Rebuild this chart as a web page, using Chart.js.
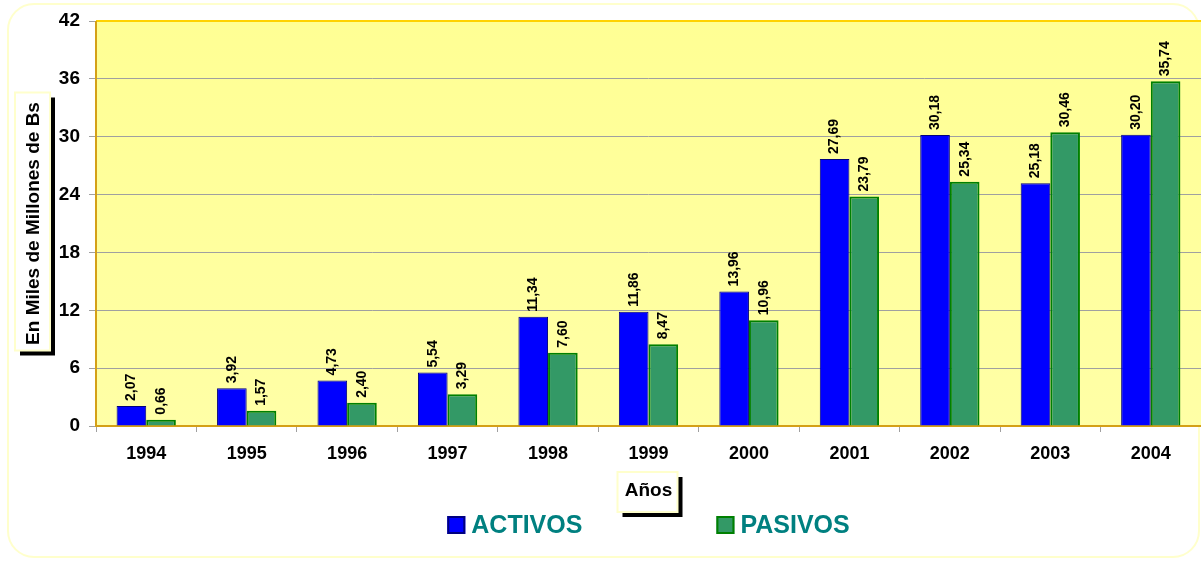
<!DOCTYPE html>
<html>
<head>
<meta charset="utf-8">
<script src="https://cdn.jsdelivr.net/npm/chart.js@4/dist/chart.umd.min.js"></script>
<style>
  body { margin: 0; background: #fff; }
  canvas { display: block; }
</style>
</head>
<body>
<canvas id="myChart" width="1201" height="561"></canvas>
<script>
const years = ['1994', '1995', '1996', '1997', '1998', '1999', '2000', '2001', '2002', '2003', '2004']
const activos = [2.07, 3.92, 4.73, 5.54, 11.34, 11.86, 13.96, 27.69, 30.18, 25.18, 30.20]
const pasivos = [0.66, 1.57, 2.40, 3.29, 7.60, 8.47, 10.96, 23.79, 25.34, 30.46, 35.74]
const yTicks = [0, 6, 12, 18, 24, 30, 36, 42]

const FONT = '"Liberation Sans", Arial, sans-serif'

function shadowBox(c, x, y, w, h) {
    c.fillStyle = '#000'
    c.fillRect(x + 5, y + 5, w, h)
    c.fillStyle = '#fff'
    c.fillRect(x, y, w, h)
    c.strokeStyle = '#ffffcc'
    c.lineWidth = 2
    c.strokeRect(x, y, w, h)
}

// background, frame and title boxes
const decor = {
    id: 'decor',
    beforeDraw(chart) {
        const c = chart.ctx
        const a = chart.chartArea
        c.save()
        c.strokeStyle = '#ffffcc'
        c.lineWidth = 2
        c.beginPath()
        c.roundRect(8, 4, chart.width - 10, chart.height - 8, 26)
        c.stroke()

        const g = c.createLinearGradient(0, a.top, 0, a.bottom)
        g.addColorStop(0, '#ffff94')
        g.addColorStop(1, '#ffffa6')
        c.fillStyle = g
        c.fillRect(a.left, a.top, a.right - a.left, a.bottom - a.top)

        // y title box
        const mid = (a.top + a.bottom) / 2
        shadowBox(c, 15, mid - 131, 35, 258)
        // x title box
        const cx = (a.left + a.right) / 2
        shadowBox(c, cx - 31, 472, 60, 40)
        c.restore()
    },
    afterDatasetsDraw(chart) {
        const c = chart.ctx
        const a = chart.chartArea
        c.save()
        // plot frame
        c.strokeStyle = '#ffd200'
        c.lineWidth = 2
        c.beginPath()
        c.moveTo(a.left, a.top)
        c.lineTo(a.right, a.top)
        c.stroke()
        c.strokeStyle = '#d4a017'
        c.lineWidth = 2
        c.beginPath()
        c.moveTo(a.left, a.top)
        c.lineTo(a.left, a.bottom)
        c.stroke()

        // value labels
        c.font = 'bold 14px ' + FONT
        c.fillStyle = '#000'
        c.textAlign = 'left'
        c.textBaseline = 'middle'
        chart.data.datasets.forEach((ds, i) => {
            chart.getDatasetMeta(i).data.forEach((bar, j) => {
                c.save()
                c.translate(bar.x, bar.y - 5)
                c.rotate(-Math.PI / 2)
                c.fillText(ds.data[j].toFixed(2).replace('.', ','), 0, 0)
                c.restore()
            })
        })

        // legend
        c.font = 'bold 25px ' + FONT
        const gap = 134
        const items = chart.data.datasets.map(ds => ({
            ds, w: 24 + c.measureText(ds.label).width
        }))
        const total = items.reduce((s, it) => s + it.w, 0) + gap
        let x = (a.left + a.right) / 2 - total / 2
        const y = 525
        items.forEach(it => {
            c.fillStyle = it.ds.backgroundColor
            c.fillRect(x, y - 9, 18, 18)
            c.strokeStyle = it.ds.borderColor
            c.lineWidth = 2
            c.strokeRect(x + 1, y - 8, 16, 16)
            c.fillStyle = '#008080'
            c.textBaseline = 'middle'
            c.fillText(it.ds.label, x + 24, y + 1)
            x += it.w + gap
        })
        c.restore()
    }
}

const ctx = document.getElementById('myChart').getContext('2d')

const myChart = new Chart(ctx, {
    type: 'bar',
    data: {
        labels: years,
        datasets: [{
            label: 'ACTIVOS',
            data: activos,
            backgroundColor: '#0000ff',
            borderColor: '#000080',
            borderWidth: 1
        }, {
            label: 'PASIVOS',
            data: pasivos,
            backgroundColor: '#339966',
            borderColor: '#008000',
            borderWidth: 2
        }]
    },
    options: {
        responsive: false,
        animation: false,
        categoryPercentage: 0.59,
        barPercentage: 1.0,
        layout: { padding: { top: 21, right: 0, bottom: 0, left: 0 } },
        plugins: {
            legend: { display: false },
            tooltip: { enabled: false }
        },
        scales: {
            x: {
                offset: true,
                grid: {
                    drawOnChartArea: false,
                    drawTicks: true,
                    tickLength: 6,
                    color: '#a0a0a0',
                    offset: true
                },
                border: { color: '#d4a017', width: 2 },
                ticks: {
                    color: '#000',
                    font: { family: FONT, size: 18, weight: 'bold' },
                    padding: 11
                },
                title: {
                    display: true,
                    text: 'Años',
                    color: '#000',
                    font: { family: FONT, size: 19, weight: 'bold' },
                    padding: { top: 0, bottom: 59 }
                },
                afterFit(scale) { scale.height = 135 }
            },
            y: {
                min: 0,
                max: 42,
                afterBuildTicks(scale) { scale.ticks = yTicks.map(v => ({ value: v })) },
                grid: { color: '#a0a0a0', tickLength: 7 },
                border: { display: false },
                ticks: {
                    color: '#000',
                    font: { family: FONT, size: 19, weight: 'bold' },
                    padding: 9
                },
                title: {
                    display: true,
                    text: 'En Miles de Millones de Bs',
                    color: '#000',
                    font: { family: FONT, size: 19, weight: 'bold' },
                    padding: { top: 22, bottom: 0 }
                },
                afterFit(scale) { scale.width = 96 }
            }
        }
    },
    plugins: [decor]
})
</script>
</body>
</html>
